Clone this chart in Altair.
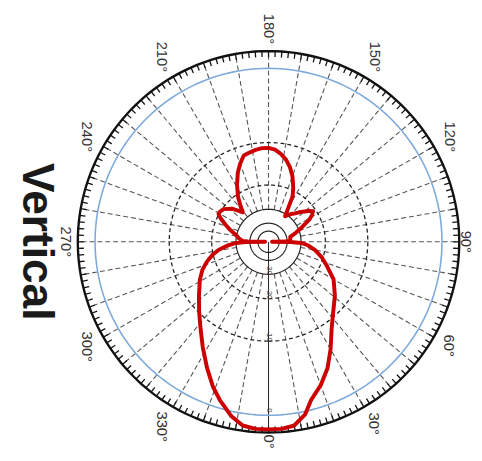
import altair as alt
import pandas as pd

# ---- radiation pattern (angle in degrees, 0 at bottom, counter-clockwise; level in dB) ----
pattern_angle = [0, 4, 8, 12, 15, 20, 25, 30, 36, 43, 51, 60, 67, 74, 80, 85, 88, 89.3, 90,
                 90.7, 93, 98, 103, 108, 112, 116, 119, 122, 124.5, 127, 130, 134, 137, 141, 145, 147,
                 149, 152, 155, 157.5, 160, 164, 168, 172.5, 176, 180, 184, 188, 192, 196, 200, 204,
                 209, 214, 218, 221, 224, 228, 234, 238, 241, 244, 248, 252, 258, 264, 268, 269.3, 270,
                 270.7, 272, 275, 279, 283, 288, 293, 299, 308, 315, 322, 328, 334, 339, 343, 348, 352,
                 356, 360]
pattern_db = [1.4, 1.4, 1.2, 0.3, -1.0, -2.3, -3.9, -6.0, -8.6, -10.8, -12.7, -15.0, -17.9, -20.5, -23.4, -26.5, -30, -37, -70,
              -40, -37.5, -37, -36.8, -32.5, -29.2, -26, -23.3, -21.8, -20.9, -21.8, -23.3, -25.2, -26.8, -28.3, -30.2, -31.2,
              -28, -21.9, -19.5, -17.9, -16.3, -14.4, -13, -11.9, -11.3, -11.0, -11.0, -11.2, -11.5, -11.8, -13.2, -14.9,
              -17.6, -20.7, -24, -26.7, -25, -22.5, -20.4, -19.9, -19.9, -21.2, -23.5, -25.7, -29.5, -31.8, -34, -38, -70,
              -36, -30, -26, -22.2, -19.8, -17.6, -15.8, -14.2, -12.1, -10.2, -8.1, -6.0, -3.8, -2.0, -0.8, 0.5, 1.2,
              1.4, 1.4]

# ---- grid ----
outer_db = [1.7]
blue_ring_db = [0]
dashed_ring_db = [-10, -20]
solid_ring_db = [-30, -40, -50]
spoke_angles = list(range(10, 360, 10))
zero_spoke = [0]
tick_angles = list(range(0, 360, 2))
angle_label_values = list(range(0, 360, 30))
angle_label_text = [f"{a}°" for a in angle_label_values]
level_label_db = [0, -10, -20, -30]
level_label_text = ["0", "-10", "-20", "-30"]
title_text = ["Vertical"]

R_EXPR = "exp(0.0558*(datum.db-1.7))"
RAD = "PI/180"

W, H = 474, 445
CX, CY, R = 265, 234, 194
xs = alt.Scale(domain=[-CX / R, (W - CX) / R], nice=False, zero=False)
ys = alt.Scale(domain=[-(H - CY) / R, CY / R], nice=False, zero=False)
X = alt.X("x:Q", scale=xs, axis=None)
Y = alt.Y("y:Q", scale=ys, axis=None)


def polar(chart):
    return chart.transform_calculate(r=R_EXPR).transform_calculate(
        x=f"datum.r*sin(datum.angle*{RAD})", y=f"-datum.r*cos(datum.angle*{RAD})")


def ring_df(levels):
    rows = []
    for lv in levels:
        for a in range(0, 361, 2):
            rows.append({"ring": lv, "angle": a, "db": lv})
    return pd.DataFrame(rows)


def ring_layer(levels, **mk):
    return polar(alt.Chart(ring_df(levels)).mark_line(**mk)).encode(
        x=X, y=Y, detail="ring:N", order="angle:Q")


def radial_rules(angles, db_in, db_out, **mk):
    df = pd.DataFrame({"angle": angles})
    return alt.Chart(df).transform_calculate(
        r1=f"exp(0.0558*({db_in}-1.7))", r2=f"exp(0.0558*({db_out}-1.7))"
    ).transform_calculate(
        x=f"datum.r1*sin(datum.angle*{RAD})", y=f"-datum.r1*cos(datum.angle*{RAD})",
        x2=f"datum.r2*sin(datum.angle*{RAD})", y2=f"-datum.r2*cos(datum.angle*{RAD})"
    ).mark_rule(**mk).encode(x=X, y=Y, x2="x2:Q", y2="y2:Q")


spokes = radial_rules(spoke_angles, -30, 1.7, color="#555555", strokeWidth=1.1, strokeDash=[5, 3])
zero_line = radial_rules(zero_spoke, -120, 1.7, color="#222222", strokeWidth=1)

ticks = alt.Chart(pd.DataFrame({"angle": tick_angles})).transform_calculate(
    x=f"sin(datum.angle*{RAD})", y=f"-cos(datum.angle*{RAD})",
    x2=f"(1-6/194)*sin(datum.angle*{RAD})", y2=f"-(1-6/194)*cos(datum.angle*{RAD})"
).mark_rule(color="#111111", strokeWidth=1.3).encode(x=X, y=Y, x2="x2:Q", y2="y2:Q")

dashed_rings = ring_layer(dashed_ring_db, color="#222222", strokeWidth=1.3, strokeDash=[4, 3])
solid_rings = ring_layer(solid_ring_db, color="#222222", strokeWidth=1.2)
blue_ring = ring_layer(blue_ring_db, color="#7eaadb", strokeWidth=1.6)
outer_ring = ring_layer(outer_db, color="#111111", strokeWidth=2.4)

pat_df = pd.DataFrame({"idx": range(len(pattern_angle)), "angle": pattern_angle, "db": pattern_db})
pattern = polar(alt.Chart(pat_df).mark_line(
    color="#cc0000", strokeWidth=4, strokeJoin="round", interpolate="linear")).encode(
    x=X, y=Y, order="idx:Q")

lvl_df = pd.DataFrame({"label": level_label_text, "db": level_label_db, "angle": [0] * 4})
level_labels = alt.Chart(lvl_df).transform_calculate(
    r=R_EXPR).transform_calculate(
    x="0", y="-(datum.r-5/194)").mark_text(
    angle=90, fontSize=8, font="Liberation Sans", color="#444444", align="center", baseline="middle"
).encode(x=X, y=Y, text="label:N")

ang_df = pd.DataFrame({"angle": angle_label_values, "label": angle_label_text})
angle_labels = alt.Chart(ang_df).transform_calculate(
    ext=f"abs(cos(datum.angle*{RAD}))*((length(datum.label)-1)*0.556+0.4)*15/2 + abs(sin(datum.angle*{RAD}))*5.5",
    gap="datum.angle==0 ? 2 : (datum.angle==90 ? 1 : 7)"
).transform_calculate(
    rl="1+(datum.gap+datum.ext)/194"
).transform_calculate(
    x=f"datum.rl*sin(datum.angle*{RAD})", y=f"-datum.rl*cos(datum.angle*{RAD})"
).mark_text(angle=90, fontSize=15, font="Liberation Sans", color="#333333",
            align="center", baseline="middle").encode(x=X, y=Y, text="label:N")

title = alt.Chart(pd.DataFrame({"t": title_text})).mark_text(
    angle=90, fontSize=45, fontWeight="bold", font="Liberation Sans", color="#1a1a1a",
    align="center", baseline="middle").encode(x=alt.value(29), y=alt.value(234), text="t:N")

chart = alt.layer(
    spokes, zero_line, dashed_rings, solid_rings, blue_ring, ticks, outer_ring,
    level_labels, angle_labels, pattern, title
).properties(
    width=W, height=H, padding=0, autosize=alt.AutoSizeParams(type="none"), background="white"
).configure_view(stroke=None)

chart.save("out.html", embed_options={"renderer": "svg", "actions": False})
